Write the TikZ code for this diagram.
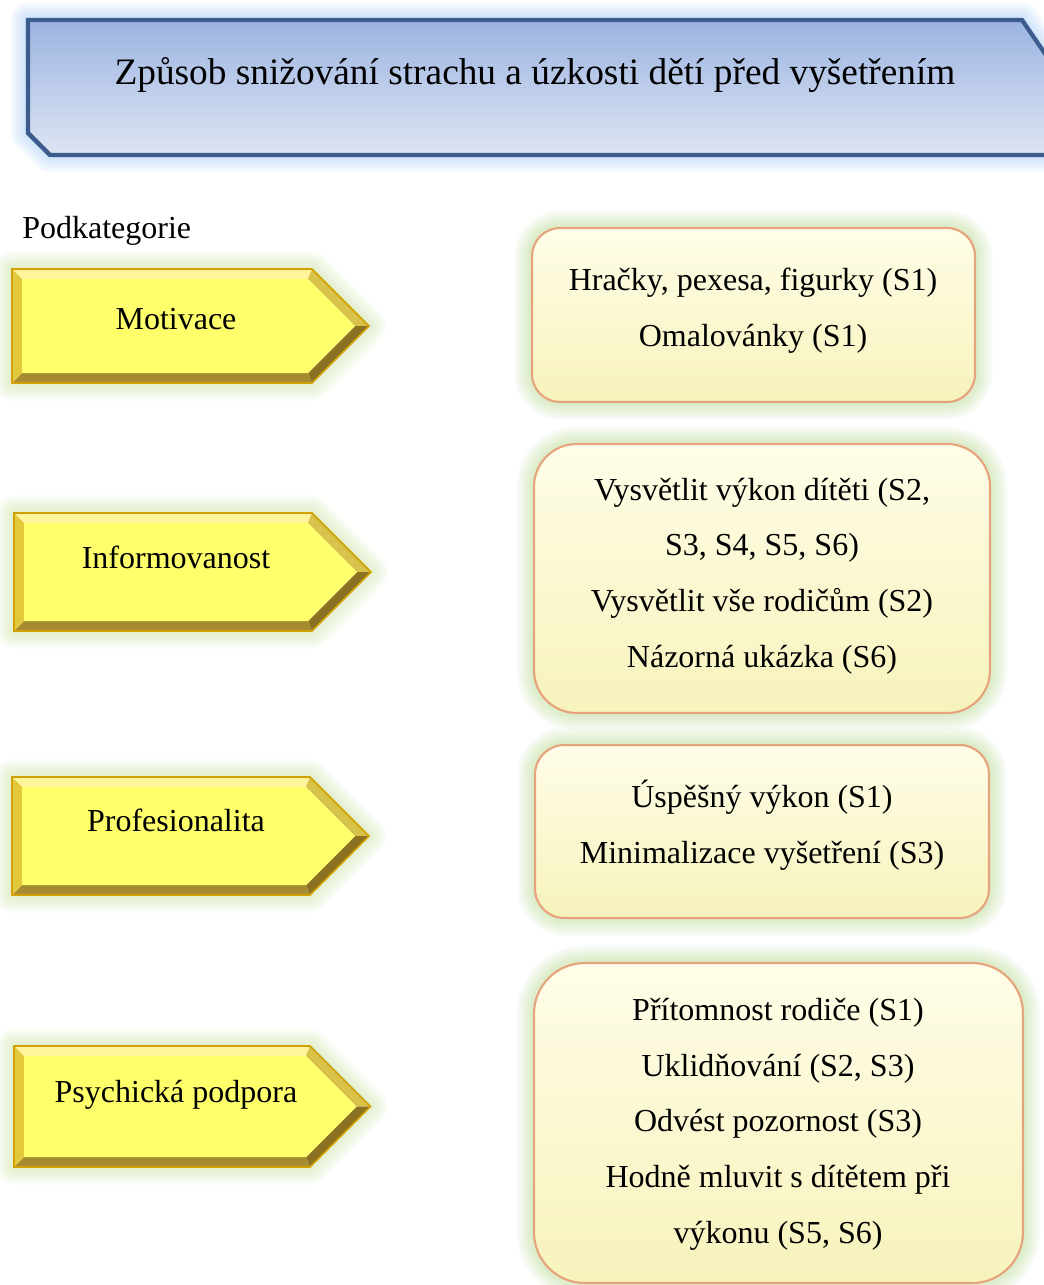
\documentclass[tikz,border=0pt]{standalone}
\usepackage{fontspec}
\setmainfont{Liberation Serif}

\definecolor{headtop}{HTML}{9CB4E2}
\definecolor{headbot}{HTML}{DEE5F2}
\definecolor{headline}{HTML}{3B5C8C}
\definecolor{headglow}{HTML}{84B8F0}
\definecolor{arrowglow}{HTML}{B8DA88}
\definecolor{boxglow}{HTML}{A4CE74}
\definecolor{boxline}{HTML}{E6A47C}
\definecolor{boxtop}{HTML}{FFFDE8}
\definecolor{boxbot}{HTML}{F7F3BC}
\definecolor{bvface}{HTML}{FFFF6C}
\definecolor{bvtop}{HTML}{FFF49A}
\definecolor{bvupr}{HTML}{D8C24A}
\definecolor{bvlwr}{HTML}{8A7222}
\definecolor{bvbot}{HTML}{A68C2E}
\definecolor{bvleft}{HTML}{E4C83C}
\definecolor{bvedge}{HTML}{D2A000}

\tikzset{
  glowring/.style 2 args={preaction={draw=#1,draw opacity=0.075,line width=#2,line join=round}},
  glow/.style={
    glowring={#1}{26pt},glowring={#1}{22pt},glowring={#1}{18pt},
    glowring={#1}{14pt},glowring={#1}{10pt},glowring={#1}{6pt}},
  infobox/.style={glow=boxglow,draw=boxline,line width=1.6pt,
    top color=boxtop,bottom color=boxbot},
  boxtext/.style={anchor=base,align=center},
  arrowtext/.style={anchor=base}
}

% bevelled pentagon arrow: name, left, top, body right, bottom, text baseline, text
\newcommand\bevelarrow[7]{%
  \pgfmathsetmacro\arMid{(#3+#5)/2}%
  \pgfmathsetmacro\arTip{#4+(#5-#3)/2}%
  \path[glow=arrowglow] (#2,#3) -- (#4,#3) -- (\arTip,\arMid) -- (#4,#5) -- (#2,#5) -- cycle;
  \fill[bvtop]  (#2,#3) -- (#4,#3) -- (#4-4,#3+10) -- (#2+10,#3+10) -- cycle;
  \fill[bvupr]  (#4,#3) -- (\arTip,\arMid) -- (\arTip-14,\arMid) -- (#4-4,#3+10) -- cycle;
  \fill[bvlwr]  (\arTip,\arMid) -- (#4,#5) -- (#4-4,#5-10) -- (\arTip-14,\arMid) -- cycle;
  \fill[bvbot]  (#4,#5) -- (#2,#5) -- (#2+10,#5-10) -- (#4-4,#5-10) -- cycle;
  \fill[bvleft] (#2,#5) -- (#2,#3) -- (#2+10,#3+10) -- (#2+10,#5-10) -- cycle;
  \fill[bvface] (#2+10,#3+10) -- (#4-4,#3+10) -- (\arTip-14,\arMid) -- (#4-4,#5-10) -- (#2+10,#5-10) -- cycle;
  \draw[bvedge,line width=1.2pt,line join=miter] (#2,#3) -- (#4,#3) -- (\arTip,\arMid) -- (#4,#5) -- (#2,#5) -- cycle;
  \node[arrowtext] (#1) at (176,#6) {#7};
}

\begin{document}
\begin{tikzpicture}[x=0.75pt,y=-0.75pt,
  every node/.style={inner sep=0pt,text=black,font=\fontsize{24}{41.7}\selectfont}]
\useasboundingbox (0,0) rectangle (1043,1285);

% heading banner
\path[glow=headglow,top color=headtop,bottom color=headbot,draw=headline,
      line width=3.2pt,line join=miter]
  (50,155) -- (28,133) -- (28,20) -- (1022,20) -- (1048,58) -- (1048,155) -- cycle;
\node[anchor=base,font=\fontsize{28}{34}\selectfont] (title) at (535,84)
  {Způsob snižování strachu a úzkosti dětí před vyšetřením};

\node[anchor=base west] (podkat) at (22,238) {Podkategorie};

% subcategory arrows
\bevelarrow{motivace}{12}{269}{312}{383}{329}{Motivace}
\bevelarrow{inform}{14}{513}{312}{631}{568}{Informovanost}
\bevelarrow{prof}{12}{777}{310}{895}{831}{Profesionalita}
\bevelarrow{psych}{14}{1046}{310}{1167}{1102}{Psychická podpora}

% answer boxes (text anchored at the baseline of the last line)
\path[infobox,rounded corners=21pt] (532,228) rectangle (975,402);
\node[boxtext] (hracky) at (753,346) {Hračky, pexesa, figurky (S1)\\Omalovánky (S1)};

\path[infobox,rounded corners=32pt] (534,444) rectangle (990,713);
\node[boxtext] (vysvetlit) at (762,667)
  {Vysvětlit výkon dítěti (S2,\\S3, S4, S5, S6)\\Vysvětlit vše rodičům (S2)\\Názorná ukázka (S6)};

\path[infobox,rounded corners=22pt] (535,745) rectangle (989,918);
\node[boxtext] (uspesny) at (762,863) {Úspěšný výkon (S1)\\Minimalizace vyšetření (S3)};

\path[infobox,rounded corners=38pt] (534,963) rectangle (1023,1283);
\node[boxtext] (pritomnost) at (778,1243)
  {Přítomnost rodiče (S1)\\Uklidňování (S2, S3)\\Odvést pozornost (S3)\\Hodně mluvit s dítětem při\\výkonu (S5, S6)};
\end{tikzpicture}
\end{document}
